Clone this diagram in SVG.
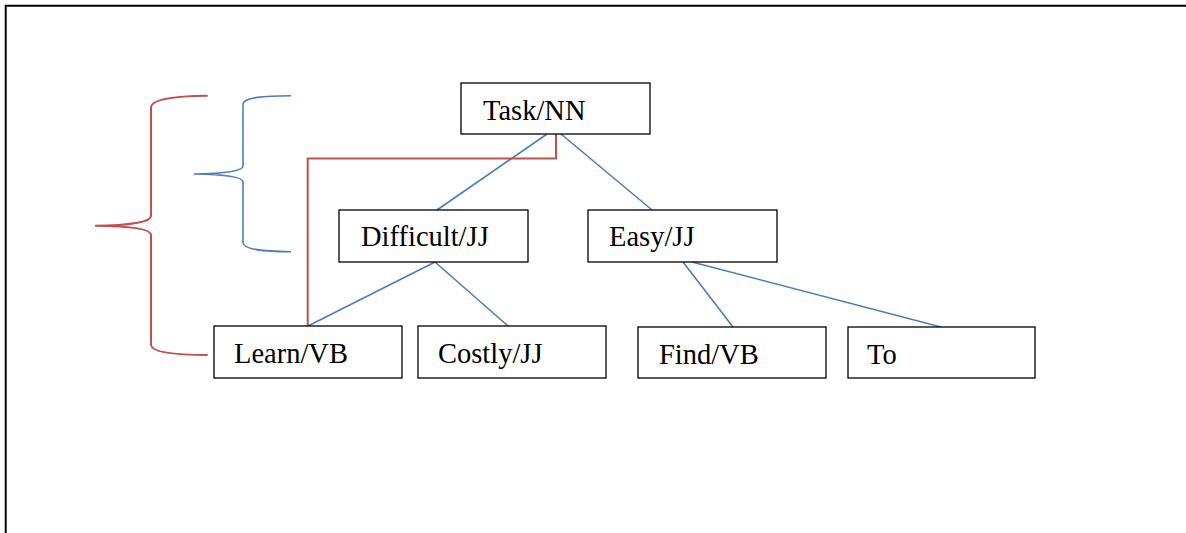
<svg xmlns="http://www.w3.org/2000/svg" width="1186" height="533" viewBox="0 0 1186 533">
<style>
.box{fill:#fff;stroke:#000;stroke-width:1.3}
.lbl{font-family:"Liberation Serif","Times New Roman",serif;font-size:28.5px;fill:#000}
.blue{stroke:#4a7ebb;stroke-width:1.6;fill:none}
.red{stroke:#c0504d;stroke-width:2;fill:none}
</style>
<rect width="1186" height="533" fill="#fff"/>
<path d="M5.7,533 V5.7 H1186" fill="none" stroke="#000" stroke-width="2"/>
<g id="braces">
<path class="red" d="M207.7,95.7 C180,96 152,98 151,107 V216 C151,222 130,225.5 95,225.7 C130,226 151,229 151,235 V345 C152,353 180,355 207.7,355"/>
<path class="blue" d="M291,95.7 C265,96 244,97 243,104 V166 C243,171 225,173.5 194,174 C225,174.5 243,177 243,182 V243 C244,250 265,251.5 291,251.7"/>
</g>
<g id="connectors">
<line class="blue" x1="547" y1="134" x2="437" y2="210"/>
<line class="blue" x1="561" y1="134" x2="652" y2="210"/>
<line class="blue" x1="435" y1="262" x2="308" y2="326"/>
<line class="blue" x1="435" y1="262" x2="508" y2="326"/>
<line class="blue" x1="683" y1="262" x2="733" y2="327"/>
<line class="blue" x1="692" y1="262" x2="941" y2="327"/>
<path class="red" d="M556,134 V158.5 H307.7 V326"/>
</g>
<g id="task"><rect class="box" x="461" y="83" width="189" height="51"/><text class="lbl" x="483" y="120">Task/NN</text></g>
<g id="difficult"><rect class="box" x="339" y="210" width="189" height="52"/><text class="lbl" x="361" y="246">Difficult/JJ</text></g>
<g id="easy"><rect class="box" x="588" y="210" width="189" height="52"/><text class="lbl" x="609" y="246">Easy/JJ</text></g>
<g id="learn"><rect class="box" x="214" y="326" width="188" height="52"/><text class="lbl" x="234" y="362.5">Learn/VB</text></g>
<g id="costly"><rect class="box" x="418" y="326" width="188" height="52"/><text class="lbl" x="438" y="362.5">Costly/JJ</text></g>
<g id="find"><rect class="box" x="638" y="327" width="188" height="51"/><text class="lbl" x="659" y="364">Find/VB</text></g>
<g id="to"><rect class="box" x="848" y="327" width="187" height="51"/><text class="lbl" x="867" y="364">To</text></g>
</svg>
